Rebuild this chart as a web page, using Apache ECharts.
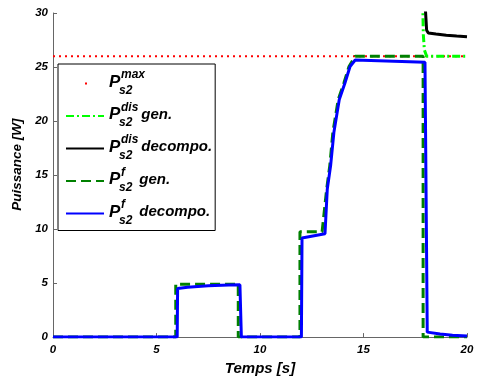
<!DOCTYPE html>
<html>
<head>
<meta charset="utf-8">
<script src="https://cdn.jsdelivr.net/npm/echarts@6/dist/echarts.min.js"></script>
<style>
html,body{margin:0;padding:0;background:#fff;}
#chart{width:479px;height:381px;}
</style>
</head>
<body>
<div id="chart"></div>
<script>
// ---- data ----
var xTicks = [0, 5, 10, 15, 20];
var yTicks = [0, 5, 10, 15, 20, 25, 30];

var maxT = [0, 20];
var maxY = [26, 26];

var disGenT = [17.86, 17.89, 17.94, 18.05, 20];
var disGenY = [31, 28, 26.6, 26, 26];

var disDecT = [17.97, 18.05, 18.13, 18.5, 19, 19.5, 20];
var disDecY = [31, 28.4, 28.15, 28.05, 27.95, 27.87, 27.8];

var fGenT = [0, 5.93, 5.93, 8.95, 8.95, 11.93, 11.93, 13.0, 13.22, 13.37, 13.52, 13.78, 14.05, 14.3, 14.6, 17.88, 17.88, 20];
var fGenY = [0, 0, 4.9, 4.9, 0, 0, 9.75, 9.75, 13.7, 15.85, 18.95, 22, 23.5, 25.05, 26, 26, 0, 0];

var fDecT = [0, 6.0, 6.02, 6.5, 7.5, 8.5, 9.03, 9.1, 12.0, 12.03, 13.14, 13.25, 13.41, 13.57, 13.83, 14.1, 14.35, 14.6, 17.97, 18.08, 18.7, 19.3, 20];
var fDecY = [0, 0, 4.5, 4.62, 4.76, 4.83, 4.85, 0, 0, 9.17, 9.57, 13.7, 15.85, 18.95, 22, 23.5, 25.05, 25.65, 25.45, 0.46, 0.28, 0.18, 0.1];

var seriesNames = ['Ps2max', 'Ps2dis gen.', 'Ps2dis decompo.', 'Ps2f gen.', 'Ps2f decompo.'];
var legendTexts = [
  '{g1| }{sup|max}\n{P|P}\n{g2| }{sub|s2}',
  '{g1| }{sup|dis}\n{P|P}{sp1| }{t|gen.}\n{g2| }{sub|s2}',
  '{g1| }{sup|dis}\n{P|P}{sp1| }{t|decompo.}\n{g2| }{sub|s2}',
  '{g1| }{sup|f}\n{P|P}{sp2| }{t|gen.}\n{g2| }{sub|s2}',
  '{g1| }{sup|f}\n{P|P}{sp2| }{t|decompo.}\n{g2| }{sub|s2}'
];

function pairs(t, y) { return t.map(function (v, i) { return [v, y[i]]; }); }

var FONT = 'Liberation Sans, Arial, Helvetica, sans-serif';
function rs(size, lh, extra) {
  var o = { fontFamily: FONT, fontWeight: 'bold', fontStyle: 'italic', fontSize: size, lineHeight: lh, color: '#000' };
  for (var k in extra) o[k] = extra[k];
  return o;
}

var chart = echarts.init(document.getElementById('chart'), null, { renderer: 'canvas' });

var axisCommon = {
  axisLine: { show: true, lineStyle: { color: '#666', width: 1 } },
  axisTick: { show: true, inside: true, length: 4, lineStyle: { color: '#666' } },
  splitLine: { show: false },
  axisLabel: { fontFamily: FONT, fontWeight: 'bold', fontStyle: 'italic', fontSize: 11.5, color: '#000' }
};

chart.setOption({
  animation: false,
  backgroundColor: '#fff',
  grid: { left: 53, right: 12, top: 13, bottom: 42, containLabel: false },
  xAxis: Object.assign({}, axisCommon, {
    type: 'value', min: xTicks[0], max: xTicks[xTicks.length - 1], interval: xTicks[1] - xTicks[0],
    name: 'Temps [s]', nameLocation: 'middle', nameGap: 21,
    nameTextStyle: { fontFamily: FONT, fontWeight: 'bold', fontStyle: 'italic', fontSize: 15, color: '#000' },
    axisLabel: Object.assign({}, axisCommon.axisLabel, { margin: 7 })
  }),
  yAxis: Object.assign({}, axisCommon, {
    type: 'value', min: yTicks[0], max: yTicks[yTicks.length - 1], interval: yTicks[1] - yTicks[0],
    name: 'Puissance [W]', nameLocation: 'middle', nameGap: 27,
    nameTextStyle: { fontFamily: FONT, fontWeight: 'bold', fontStyle: 'italic', fontSize: 13.5, color: '#000', padding: [0, 0, 0, 21] },
    axisLabel: Object.assign({}, axisCommon.axisLabel, { margin: 5 })
  }),
  legend: {
    left: 58, top: 64, orient: 'vertical',
    backgroundColor: '#fff', borderColor: '#000', borderWidth: 1,
    padding: [5, 3, 4, 7], itemGap: 5, itemWidth: 38, itemHeight: 14,
    selectedMode: false,
    itemStyle: { color: 'rgba(0,0,0,0)', borderColor: 'rgba(0,0,0,0)', borderWidth: 0 },
    data: [
      { name: seriesNames[0], icon: 'path://M0,0M38,14M19,6h2v2h-2z', itemStyle: { color: '#ff0000', borderWidth: 0 } },
      seriesNames[1], seriesNames[2], seriesNames[3], seriesNames[4]
    ],
    formatter: function (name) { return legendTexts[seriesNames.indexOf(name)]; },
    textStyle: {
      fontFamily: FONT, color: '#000',
      rich: {
        g1: rs(10, 6, { width: 12 }),
        sup: rs(12, 6),
        P: rs(17, 8),
        sp1: rs(10, 8, { width: 21 }),
        sp2: rs(10, 8, { width: 19 }),
        t: rs(15, 8),
        g2: rs(10, 9, { width: 10 }),
        sub: rs(12, 9)
      }
    }
  },
  series: [
    {
      name: seriesNames[0], type: 'line', symbol: 'none', color: '#ff0000',
      itemStyle: { color: '#ff0000' },
      lineStyle: { color: '#ff0000', width: 2, type: [2, 4] },
      data: pairs(maxT, maxY), z: 2
    },
    {
      name: seriesNames[1], type: 'line', symbol: 'none', color: '#00ff00',
      lineStyle: { color: '#00ff00', width: 3, type: [8, 3, 2, 3] },
      data: pairs(disGenT, disGenY), z: 3
    },
    {
      name: seriesNames[2], type: 'line', symbol: 'none', color: '#000000',
      lineStyle: { color: '#000000', width: 3 },
      data: pairs(disDecT, disDecY), z: 4
    },
    {
      name: seriesNames[3], type: 'line', symbol: 'none', color: '#008000',
      lineStyle: { color: '#008000', width: 3, type: [10, 5] },
      data: pairs(fGenT, fGenY), z: 5
    },
    {
      name: seriesNames[4], type: 'line', symbol: 'none', color: '#0000ff',
      lineStyle: { color: '#0000ff', width: 3 },
      data: pairs(fDecT, fDecY), z: 6
    }
  ]
});
</script>
</body>
</html>
